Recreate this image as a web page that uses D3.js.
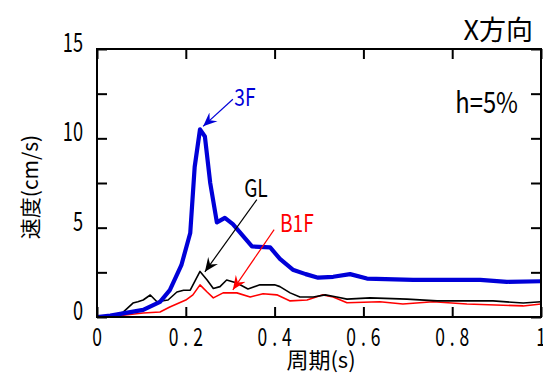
<!DOCTYPE html>
<html>
<head>
<meta charset="utf-8">
<script src="https://cdn.jsdelivr.net/npm/d3@7/dist/d3.min.js"></script>
<style>
  html, body { margin: 0; padding: 0; background: #fff; }
  svg { display: block; }
  text { font-family: "Noto Sans CJK JP", "Noto Sans", sans-serif; }
</style>
</head>
<body>
<svg id="chart" width="543" height="374"></svg>
<script>
// period (s) / velocity (cm/s)
var period3F = [0, 0.03, 0.059, 0.104, 0.142, 0.164, 0.19, 0.21, 0.22, 0.232, 0.243, 0.255, 0.27, 0.288, 0.306, 0.349, 0.39, 0.412, 0.441, 0.47, 0.498, 0.532, 0.57, 0.608, 0.712, 0.863, 0.923, 1.0];
var vel3F    = [0, 0.08, 0.2, 0.4, 0.85, 1.5, 2.9, 4.7, 8.4, 10.5, 10.1, 7.5, 5.3, 5.55, 5.2, 3.95, 3.9, 3.25, 2.65, 2.4, 2.2, 2.25, 2.4, 2.15, 2.08, 2.08, 1.97, 2.0];

var periodGL = [0, 0.03, 0.059, 0.081, 0.092, 0.104, 0.12, 0.135, 0.16, 0.18, 0.195, 0.21, 0.232, 0.248, 0.262, 0.277, 0.292, 0.315, 0.34, 0.367, 0.4, 0.412, 0.435, 0.457, 0.487, 0.514, 0.54, 0.563, 0.615, 0.698, 0.766, 0.892, 0.96, 1.0];
var velGL    = [0, 0.08, 0.27, 0.78, 0.85, 0.95, 1.23, 0.85, 0.95, 1.4, 1.5, 1.5, 2.55, 2.07, 1.6, 1.7, 2.07, 1.9, 1.57, 1.8, 1.8, 1.7, 1.35, 1.12, 1.12, 1.24, 1.12, 1.0, 1.07, 1.0, 0.9, 0.9, 0.78, 0.85];

var periodB1F = [0, 0.059, 0.104, 0.142, 0.164, 0.2, 0.216, 0.232, 0.248, 0.262, 0.284, 0.315, 0.345, 0.374, 0.405, 0.435, 0.473, 0.509, 0.532, 0.563, 0.637, 0.689, 0.757, 0.833, 0.96, 1.0];
var velB1F    = [0, 0.1, 0.22, 0.28, 0.56, 0.95, 1.24, 1.8, 1.4, 1.07, 1.35, 1.35, 1.12, 1.3, 1.24, 0.9, 0.95, 1.24, 1.12, 0.8, 0.85, 0.73, 0.85, 0.73, 0.62, 0.73];

var xTicks = [0, 0.2, 0.4, 0.6, 0.8, 1];
var xTickLabels = ["0", "0.2", "0.4", "0.6", "0.8", "1"];
var yTicks = [0, 2.5, 5, 7.5, 10, 12.5, 15];
var yTickLabels = ["0", "", "5", "", "10", "", "15"];

// labels with arrows: [name, labelX, labelY, tailX, tailY, tipX, tipY] in data units
var callouts = [
    ["3F",  0.333, 11.8, 0.306, 12.19, 0.239, 10.67],
    ["GL",  0.358, 6.74, 0.36, 6.57, 0.243, 2.53],
    ["B1F", 0.45, 4.78, 0.399, 4.89, 0.306, 1.52]
];

var colors = { "3F": "#0000d8", "GL": "#000", "B1F": "#ff0000" };

var margin = { left: 97, right: 2, top: 49, bottom: 57 },
    width = 543 - margin.left - margin.right,
    height = 374 - margin.top - margin.bottom;

var svg = d3.select("#chart");
var g = svg.append("g").attr("transform", "translate(" + margin.left + "," + margin.top + ")");

var x = d3.scaleLinear().domain([0, 1]).range([0, width]);
var y = d3.scaleLinear().domain([0, 15]).range([height, 0]);

var defs = svg.append("defs");
Object.keys(colors).forEach(function (k) {
    defs.append("marker")
        .attr("id", "arr-" + k)
        .attr("viewBox", "-14 -7 16 14")
        .attr("refX", 0).attr("refY", 0)
        .attr("markerWidth", 16).attr("markerHeight", 14)
        .attr("markerUnits", "userSpaceOnUse")
        .attr("orient", "auto")
        .append("path")
        .attr("d", "M0,0 L-14,-6 L-9,0 L-14,6 Z")
        .attr("fill", colors[k]);
});

g.append("defs").append("clipPath").attr("id", "clip")
    .append("rect").attr("width", width).attr("height", height);

// curves
var line = d3.line()
    .x(function (d) { return x(d[0]); })
    .y(function (d) { return y(d[1]); });

var curves = [
    { name: "B1F", px: periodB1F, v: velB1F, w: 1.6 },
    { name: "GL",  px: periodGL,  v: velGL,  w: 1.6 },
    { name: "3F",  px: period3F,  v: vel3F,  w: 4.2 }
];

g.append("g").attr("clip-path", "url(#clip)")
    .selectAll("path")
    .data(curves)
    .enter()
    .append("path")
    .attr("d", function (c) { return line(d3.zip(c.px, c.v)); })
    .attr("fill", "none")
    .attr("stroke", function (c) { return colors[c.name]; })
    .attr("stroke-width", function (c) { return c.w; })
    .attr("stroke-linejoin", "round");

// axes, ticks on all four sides pointing in
var tickLen = 10;
g.append("g").call(d3.axisBottom(x).tickValues(xTicks).tickSize(-tickLen).tickFormat(""))
    .attr("transform", "translate(0," + height + ")");
g.append("g").call(d3.axisTop(x).tickValues(xTicks).tickSize(-tickLen).tickFormat(""));
g.append("g").call(d3.axisLeft(y).tickValues(yTicks).tickSize(-tickLen).tickFormat(""));
g.append("g").call(d3.axisRight(y).tickValues(yTicks).tickSize(-tickLen).tickFormat(""))
    .attr("transform", "translate(" + width + ",0)");
g.selectAll(".domain").remove();
g.selectAll(".tick line").attr("stroke", "#000").attr("stroke-width", 2);

g.append("rect")
    .attr("width", width).attr("height", height)
    .attr("fill", "none").attr("stroke", "#000").attr("stroke-width", 2);

// tick labels (narrow gothic look)
g.selectAll(".xlab")
    .data(xTicks)
    .enter()
    .append("text")
    .attr("transform", function (d) { return "translate(" + x(d) + "," + (height + 29) + ") scale(0.7,1)"; })
    .attr("text-anchor", "middle")
    .attr("font-size", 25)
    .attr("letter-spacing", function (d, i) { return xTickLabels[i].length > 1 ? 7 : 0; })
    .attr("dx", function (d, i) { return xTickLabels[i].length > 1 ? 3.5 : 0; })
    .text(function (d, i) { return xTickLabels[i]; });

g.selectAll(".ylab")
    .data(yTicks)
    .enter()
    .append("text")
    .attr("transform", function (d) { return "translate(-14," + (y(d) + 3) + ") scale(0.7,1)"; })
    .attr("text-anchor", "end")
    .attr("font-size", 26)
    .text(function (d, i) { return yTickLabels[i]; });

// axis titles
svg.append("text")
    .attr("transform", "translate(" + (margin.left + width / 2 + 2) + ",368)")
    .attr("text-anchor", "middle")
    .attr("font-size", 22)
    .text("周期(s)");

svg.append("text")
    .attr("transform", "translate(38,187) rotate(-90)")
    .attr("text-anchor", "middle")
    .attr("font-size", 21)
    .text("速度(cm/s)");

svg.append("text")
    .attr("x", 533).attr("y", 40)
    .attr("text-anchor", "end")
    .attr("font-size", 27)
    .text("X方向");

svg.append("text")
    .attr("transform", "translate(518,113) scale(0.82,1)")
    .attr("text-anchor", "end")
    .attr("font-size", 29)
    .text("h=5%");

// callouts
var call = g.selectAll(".callout")
    .data(callouts)
    .enter()
    .append("g");

call.append("line")
    .attr("x1", function (d) { return x(d[3]); })
    .attr("y1", function (d) { return y(d[4]); })
    .attr("x2", function (d) { return x(d[5]); })
    .attr("y2", function (d) { return y(d[6]); })
    .attr("stroke", function (d) { return colors[d[0]]; })
    .attr("stroke-width", 1.2)
    .attr("marker-end", function (d) { return "url(#arr-" + d[0] + ")"; });

call.append("text")
    .attr("transform", function (d) { return "translate(" + x(d[1]) + "," + y(d[2]) + ") scale(0.8,1)"; })
    .attr("text-anchor", "middle")
    .attr("font-size", 24)
    .attr("fill", function (d) { return colors[d[0]]; })
    .text(function (d) { return d[0]; });
</script>
</body>
</html>
